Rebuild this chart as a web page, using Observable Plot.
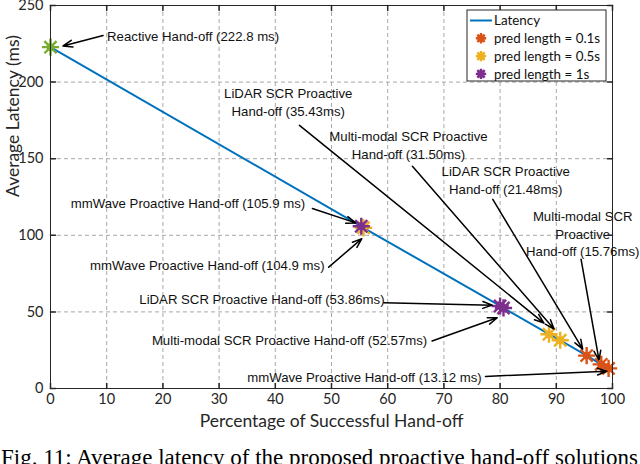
<!DOCTYPE html>
<html>
<head>
<meta charset="utf-8">
<script src="https://cdn.jsdelivr.net/npm/d3@7"></script>
<script src="https://cdn.jsdelivr.net/npm/@observablehq/plot@0.6"></script>
<style>
  html, body { margin: 0; padding: 0; background: #fff; width: 640px; height: 464px; overflow: hidden; position: relative; }
  #caption { position: absolute; left: 1px; top: 446px; font-family: "Liberation Serif", "DejaVu Serif", serif; font-size: 23px; line-height: 23px; white-space: nowrap; color: #000; }
</style>
</head>
<body>
<div id="chart"></div>
<div id="caption">Fig. 11: Average latency of the proposed proactive hand-off solutions</div>
<script>
// ---- data ----
const xTicks = [0, 10, 20, 30, 40, 50, 60, 70, 80, 90, 100];
const yTicks = [0, 50, 100, 150, 200, 250];
const xLabel = "Percentage of Successful Hand-off";
const yLabel = "Average Latency (ms)";
const methods = ["mmWave", "LiDAR SCR", "Multi-modal SCR"];
const predLabels = ["pred length = 0.1s", "pred length = 0.5s", "pred length = 1s"];
const predColors = ["#D95319", "#EDB120", "#7E2F8E"];
const pct_01 = [99.3, 95.4, 98.0];
const lat_01 = [13.12, 21.48, 15.76];
const pct_05 = [55.7, 88.7, 90.7];
const lat_05 = [104.9, 35.43, 31.50];
const pct_1 = [55.3, 80.0, 80.6];
const lat_1 = [105.9, 53.86, 52.57];
const reactivePct = [0];
const reactiveLat = [222.8];
const reactiveColor = "#77AC30";
const lineColor = "#0072BD";

// annotation labels (text, anchor point of text, arrow start -> arrow tip), in data units
const annText = [
  "Reactive Hand-off (222.8 ms)",
  "LiDAR SCR Proactive\nHand-off (35.43ms)",
  "Multi-modal SCR Proactive\nHand-off (31.50ms)",
  "LiDAR SCR Proactive\nHand-off (21.48ms)",
  "Multi-modal SCR\nProactive\nHand-off (15.76ms)",
  "mmWave Proactive Hand-off (105.9 ms)",
  "mmWave Proactive Hand-off (104.9 ms)",
  "LiDAR SCR Proactive Hand-off (53.86ms)",
  "Multi-modal SCR Proactive Hand-off (52.57ms)",
  "mmWave Proactive Hand-off (13.12 ms)"
];
const annX = [10.07, 42.3, 63.7, 81.0, 94.7, 3.6, 7.04, 15.8, 18.04, 35.0];
const annY = [229.8, 187.4, 159.4, 136.6, 101.4, 120.5, 79.9, 57.7, 31.0, 6.8];
const annAnchor = ["start", "middle", "middle", "middle", "middle", "start", "start", "start", "start", "start"];
const arrX1 = [9.36, 44.3, 64.4, 78.7, 94.4, 46.6, 49.5, 59.3, 67.9, 77.4];
const arrY1 = [230.4, 171.8, 145.0, 123.5, 84.4, 117.5, 79.2, 55.9, 31.0, 7.9];
const arrX2 = [2.23, 87.8, 89.6, 94.7, 97.6, 54.3, 55.4, 78.6, 79.5, 99.0];
const arrY2 = [223.6, 42.7, 38.8, 25.7, 18.6, 108.1, 97.8, 54.4, 46.2, 11.3];

// ---- build tables ----
const groups = [
  {label: predLabels[0], color: predColors[0], pct: pct_01, lat: lat_01},
  {label: predLabels[1], color: predColors[1], pct: pct_05, lat: lat_05},
  {label: predLabels[2], color: predColors[2], pct: pct_1, lat: lat_1}
];
const points = [];
groups.forEach(g => g.pct.forEach((p, i) => points.push({x: p, y: g.lat[i], color: g.color, method: methods[i]})));
const reactive = reactivePct.map((p, i) => ({x: p, y: reactiveLat[i], color: reactiveColor}));
const linePts = [...reactive, ...points].map(d => ({x: d.x, y: d.y})).sort((a, b) => a.x - b.x);
const ann = annText.map((t, i) => ({t, x: annX[i], y: annY[i], a: annAnchor[i], x1: arrX1[i], y1: arrY1[i], x2: arrX2[i], y2: arrY2[i]}));

const tickShape = {draw(ctx, l) { ctx.moveTo(0, 0); ctx.lineTo(0, -l); }};
const axisColor = "#262626";
const tickFont = "Lato, 'Open Sans', sans-serif";
const annFont = "'Liberation Sans', Arial, sans-serif";

function markerMarks(data) {
  return [
    Plot.dot(data, {x: "x", y: "y", symbol: "plus", r: 5.6, stroke: "color", strokeWidth: 2.4}),
    Plot.dot(data, {x: "x", y: "y", symbol: "times", r: 5.6, stroke: "color", strokeWidth: 2.4}),
    Plot.dot(data, {x: "x", y: "y", r: 3.9, fill: "color"})
  ];
}

const chart = Plot.plot({
  width: 640,
  height: 440,
  marginLeft: 50,
  marginRight: 28,
  marginTop: 5,
  marginBottom: 52,
  style: {fontFamily: tickFont, background: "#fff", color: axisColor},
  x: {domain: [0, 100]},
  y: {domain: [0, 250]},
  marks: [
    Plot.gridX(xTicks, {stroke: "#a8a8a8", strokeOpacity: 1, strokeDasharray: "4,3"}),
    Plot.gridY(yTicks, {stroke: "#a8a8a8", strokeOpacity: 1, strokeDasharray: "4,3"}),
    Plot.line(linePts, {x: "x", y: "y", stroke: lineColor, strokeWidth: 2}),
    ...markerMarks(points.filter(d => d.color === predColors[0])),
    ...markerMarks(points.filter(d => d.color === predColors[1])),
    ...markerMarks(points.filter(d => d.color === predColors[2])),
    ...markerMarks(reactive),
    Plot.arrow(ann, {x1: "x1", y1: "y1", x2: "x2", y2: "y2", stroke: "black", strokeWidth: 1.5, headLength: 10, headAngle: 40}),
    Plot.text(ann.filter(d => d.a === "start"), {x: "x", y: "y", text: "t", textAnchor: "start", fontFamily: annFont, fontSize: 13.2, fill: "#111"}),
    Plot.text(ann.filter(d => d.a === "middle"), {x: "x", y: "y", text: "t", textAnchor: "middle", fontFamily: annFont, fontSize: 13.2, lineHeight: 1.33, fill: "#111"}),
    Plot.frame({stroke: axisColor, strokeWidth: 1}),
    Plot.vector(xTicks, {x: d => d, frameAnchor: "bottom", length: 5, rotate: 0, anchor: "start", shape: tickShape, stroke: axisColor}),
    Plot.vector(xTicks, {x: d => d, frameAnchor: "top", length: 5, rotate: 180, anchor: "start", shape: tickShape, stroke: axisColor}),
    Plot.vector(yTicks, {y: d => d, frameAnchor: "left", length: 5, rotate: 90, anchor: "start", shape: tickShape, stroke: axisColor}),
    Plot.vector(yTicks, {y: d => d, frameAnchor: "right", length: 5, rotate: -90, anchor: "start", shape: tickShape, stroke: axisColor}),
    Plot.axisX(xTicks, {tickSize: 0, tickPadding: 5, fontSize: 14.5, fill: axisColor, label: null}),
    Plot.axisY(yTicks, {tickSize: 0, tickPadding: 7, fontSize: 14.5, fill: axisColor, label: null}),
    Plot.text([xLabel], {text: d => d, frameAnchor: "bottom", dy: 38, fontSize: 17.5, fill: axisColor}),
    Plot.text([yLabel], {text: d => d, frameAnchor: "left", dx: -37, rotate: -90, fontSize: 17.5, fill: axisColor})
  ]
});

document.getElementById("chart").appendChild(chart);

// ---- legend inside the plot (top-right) ----
const svg = d3.select(chart);
const lg = svg.append("g").attr("transform", "translate(467,10)");
lg.append("rect").attr("width", 139).attr("height", 71).attr("fill", "#fff").attr("stroke", axisColor).attr("stroke-width", 1);
const rows = [{label: "Latency", type: "line", color: lineColor}, ...groups.map(g => ({label: g.label, type: "marker", color: g.color}))];
rows.forEach((r, i) => {
  const cy = 10.5 + i * 17.8;
  if (r.type === "line") {
    lg.append("line").attr("x1", 3).attr("x2", 25).attr("y1", cy).attr("y2", cy).attr("stroke", r.color).attr("stroke-width", 2);
  } else {
    const gm = lg.append("g").attr("transform", `translate(14,${cy})`);
    gm.append("path").attr("d", "M-5.2,0H5.2M0,-5.2V5.2M-3.7,-3.7L3.7,3.7M-3.7,3.7L3.7,-3.7").attr("stroke", r.color).attr("stroke-width", 2.4).attr("fill", "none");
    gm.append("circle").attr("r", 3.7).attr("fill", r.color);
  }
  lg.append("text").attr("x", 27).attr("y", cy).attr("dy", "0.35em").attr("text-anchor", "start").attr("font-family", tickFont).attr("font-size", 13.4).attr("fill", "#111").text(r.label);
});
</script>
</body>
</html>
